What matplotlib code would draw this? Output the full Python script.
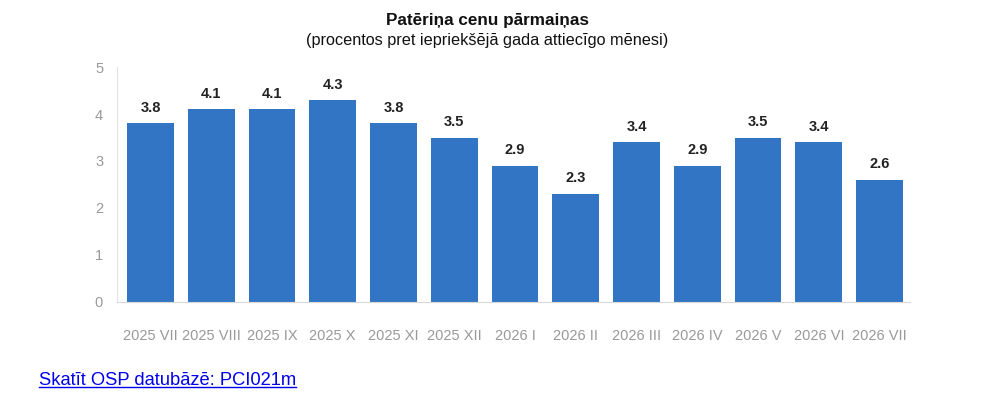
import matplotlib.pyplot as plt

plt.rcParams['font.family'] = ['Liberation Sans', 'DejaVu Sans']

periods = ['2025 VII', '2025 VIII', '2025 IX', '2025 X', '2025 XI', '2025 XII',
           '2026 I', '2026 II', '2026 III', '2026 IV', '2026 V', '2026 VI', '2026 VII']
values = [3.8, 4.1, 4.1, 4.3, 3.8, 3.5, 2.9, 2.3, 3.4, 2.9, 3.5, 3.4, 2.6]
yticks = [0, 1, 2, 3, 4, 5]

fig = plt.figure(figsize=(10, 4.03), dpi=100)
ax = fig.add_axes([0.117, 0.2514, 0.793, 0.5819])

x = range(len(periods))
bars = ax.bar(x, values, width=0.77, color='#3375c5', zorder=2)
for b, v in zip(bars, values):
    ax.annotate(f'{v:.1f}', (b.get_x() + b.get_width() / 2, v),
                xytext=(0, 6), textcoords='offset points', ha='center', va='bottom',
                fontsize=10.5, fontweight='bold', color='#222222')

ax.set_xlim(-0.55, 12.5)
ax.set_ylim(0, 5)
ax.set_yticks(yticks)
ax.set_xticks(list(x))
ax.set_xticklabels(periods)
ax.tick_params(axis='y', length=0, pad=10, labelsize=10.5, labelcolor='#999999')
ax.tick_params(axis='x', length=0, pad=20, labelsize=10.5, labelcolor='#999999')

for s in ['top', 'right']:
    ax.spines[s].set_visible(False)
ax.spines['left'].set_color('#e4e4e4')
ax.spines['bottom'].set_color('#d8d8d8')

fig.text(0.487, 0.948, 'Patēriņa cenu pārmaiņas', ha='center', va='center',
         fontsize=12.3, fontweight='bold', color='#111111')
fig.text(0.487, 0.9, '(procentos pret iepriekšējā gada attiecīgo mēnesi)', ha='center',
         va='center', fontsize=11.7, color='#111111')

link = fig.text(0.039, 0.057, 'Skatīt OSP datubāzē: PCI021m', ha='left', va='center',
                fontsize=13.2, color='#0000ee')
fig.canvas.draw()
bb = link.get_window_extent().transformed(fig.transFigure.inverted())
fig.add_artist(plt.Line2D([bb.x0, bb.x1], [bb.y0 + 0.004, bb.y0 + 0.004],
                          color='#0000ee', lw=1, transform=fig.transFigure))

fig.savefig('out.png', dpi=100)
